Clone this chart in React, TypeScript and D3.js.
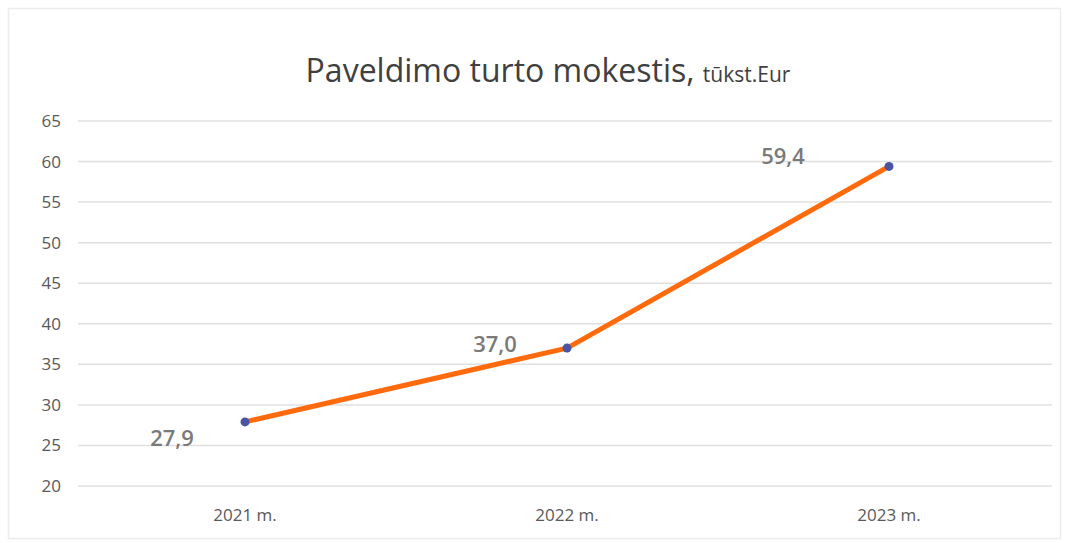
import React from "react";
import * as d3 from "d3";

const categories = ["2021 m.", "2022 m.", "2023 m."];
const values = [27.9, 37.0, 59.4];
const valueLabels = ["27,9", "37,0", "59,4"];
const yTicks = [20, 25, 30, 35, 40, 45, 50, 55, 60, 65];

const W = 1068;
const H = 543;
const plot = { left: 84, right: 1050, top: 121, bottom: 486 };
const labelOffsets = [
  { dx: -73, dy: 16 },
  { dx: -72, dy: -4 },
  { dx: -106, dy: -10 },
];

export default function App() {
  const x = d3.scaleBand<string>().domain(categories).range([plot.left, plot.right]);
  const y = d3.scaleLinear().domain([20, 65]).range([plot.bottom, plot.top]);
  const line = d3
    .line<number>()
    .x((_, i) => (x(categories[i]) as number) + x.bandwidth() / 2)
    .y((d) => y(d));
  const font = "'Open Sans', 'DejaVu Sans', sans-serif";
  return (
    <svg
      width={W}
      height={H}
      style={{ position: "absolute", left: 0, top: 0, background: "#fff" }}
      fontFamily={font}
    >
      <rect x={0} y={0} width={W} height={H} fill="#fff" />
      <rect x={8.5} y={8.5} width={1052} height={530} fill="none" stroke="#ececec" strokeWidth={1.5} />
      <text x={548} y={82} textAnchor="middle" fill="#404040">
        <tspan fontSize={32}>Paveldimo turto mokestis, </tspan>
        <tspan fontSize={21}>tūkst.Eur</tspan>
      </text>
      {yTicks.map((t) => (
        <g key={t}>
          <line x1={78} x2={1052} y1={y(t)} y2={y(t)} stroke="#e0e0e0" strokeWidth={1.5} />
          <text x={61} y={y(t)} dy="0.35em" textAnchor="end" fontSize={17} fill="#595959">
            {t}
          </text>
        </g>
      ))}
      {categories.map((c) => (
        <text
          key={c}
          x={(x(c) as number) + x.bandwidth() / 2}
          y={521}
          textAnchor="middle"
          fontSize={17}
          fill="#595959"
        >
          {c}
        </text>
      ))}
      <path d={line(values) || ""} fill="none" stroke="#FF6A0D" strokeWidth={5} strokeLinejoin="round" />
      {values.map((v, i) => {
        const cx = (x(categories[i]) as number) + x.bandwidth() / 2;
        const cy = y(v);
        return (
          <g key={i}>
            <circle cx={cx} cy={cy} r={4.5} fill="#4a55a2" />
            <text
              x={cx + labelOffsets[i].dx}
              y={cy + labelOffsets[i].dy}
              dy="0.35em"
              textAnchor="middle"
              fontSize={22}
              fontWeight={600}
              fill="#7a7a7a"
            >
              {valueLabels[i]}
            </text>
          </g>
        );
      })}
    </svg>
  );
}
